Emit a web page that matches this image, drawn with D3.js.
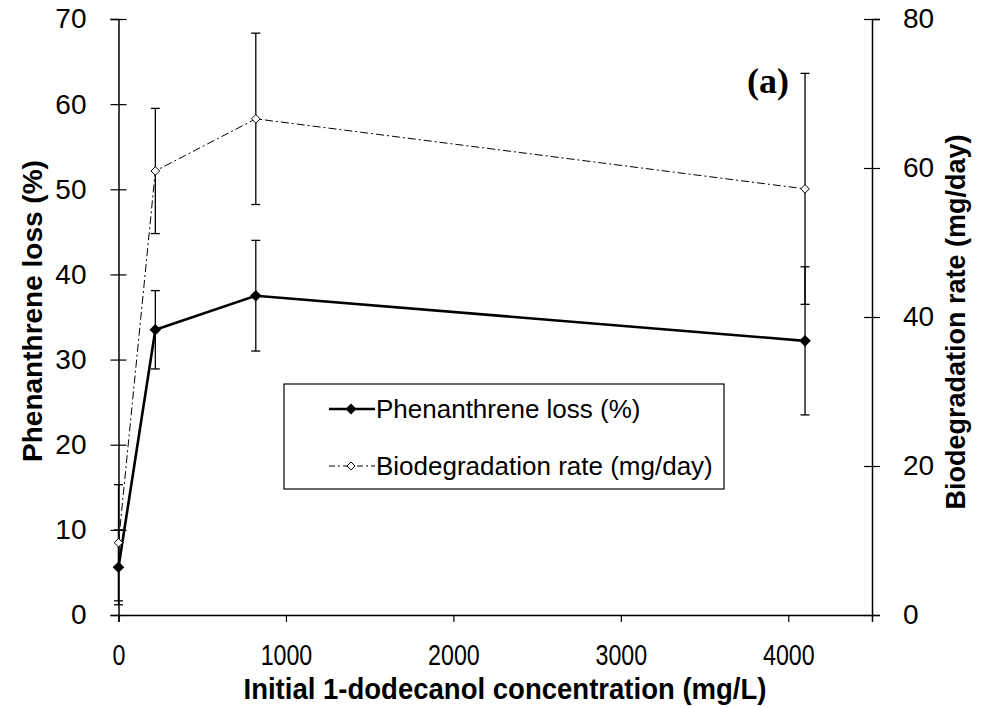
<!DOCTYPE html>
<html>
<head>
<meta charset="utf-8">
<script src="https://cdn.jsdelivr.net/npm/d3@7"></script>
<style>
  html, body { margin: 0; padding: 0; background: #fff; }
  svg text { font-family: "Liberation Sans", Arial, Helvetica, sans-serif; fill: #000; }
</style>
</head>
<body>
<svg id="chart" width="993" height="707"></svg>
<script>
// ---- data ----
const concentrations = [0, 220, 820, 4100];           // mg/L
const phenanthreneLoss = [5.6, 33.5, 37.5, 32.2];      // %
const phenanthreneErr = [4.4, 4.6, 6.5, 8.7];
const biodegRate = [9.7, 59.6, 66.6, 57.2];            // mg/day
const biodegErr = [7.8, 8.4, 11.5, 15.5];
const xTicks = [0, 1000, 2000, 3000, 4000];
const yLeftTicks = [0, 10, 20, 30, 40, 50, 60, 70];
const yRightTicks = [0, 20, 40, 60, 80];
const seriesNames = ["Phenanthrene loss (%)", "Biodegradation rate (mg/day)"];

// ---- layout ----
const svg = d3.select("#chart");
const L = 118.5, R = 872, T = 19, B = 615;

const x = d3.scaleLinear().domain([0, 4500]).range([L, R]);
const yL = d3.scaleLinear().domain([0, 70]).range([B, T]);
const yR = d3.scaleLinear().domain([0, 80]).range([B, T]);

const phen = concentrations.map((c, i) => ({x: c, y: phenanthreneLoss[i], e: phenanthreneErr[i]}));
const bio = concentrations.map((c, i) => ({x: c, y: biodegRate[i], e: biodegErr[i]}));

// ---- axes ----
const xAxis = svg.append("g").attr("transform", `translate(0,${B})`)
  .call(d3.axisBottom(x).tickValues(xTicks).tickSize(7).tickPadding(0).tickFormat(d3.format("d")));
xAxis.select(".domain").attr("stroke", "#000").attr("stroke-width", 1.5);
xAxis.selectAll(".tick line").attr("stroke", "#000").attr("stroke-width", 1.2);
xAxis.selectAll(".tick text").text(null);
xAxis.selectAll(".tick").append("text")
  .attr("transform", "translate(0,50) scale(0.8,1)")
  .attr("text-anchor", "middle")
  .style("font-size", "29px")
  .text(d => d);

const yAxisL = svg.append("g").attr("transform", `translate(${L},0)`)
  .call(d3.axisLeft(yL).tickValues(yLeftTicks).tickSize(8).tickPadding(24));
yAxisL.select(".domain").attr("stroke", "#000").attr("stroke-width", 1.5);
yAxisL.selectAll(".tick line").attr("stroke", "#000").attr("stroke-width", 1.2).attr("x2", -8).attr("x1", 8);
yAxisL.selectAll(".tick text").style("font-size", "28px");

const yAxisR = svg.append("g").attr("transform", `translate(${R},0)`)
  .call(d3.axisRight(yR).tickValues(yRightTicks).tickSize(8).tickPadding(23));
yAxisR.select(".domain").attr("stroke", "#000").attr("stroke-width", 1.5);
yAxisR.selectAll(".tick line").attr("stroke", "#000").attr("stroke-width", 1.2).attr("x1", -8).attr("x2", 8);
yAxisR.selectAll(".tick text").style("font-size", "28px");

// ---- axis titles ----
svg.append("text")
  .attr("x", 505).attr("y", 699)
  .attr("text-anchor", "middle")
  .attr("textLength", 523).attr("lengthAdjust", "spacingAndGlyphs")
  .style("font-size", "29px").style("font-weight", "bold")
  .text("Initial 1-dodecanol concentration (mg/L)");

svg.append("text")
  .attr("transform", "translate(42,311) rotate(-90)")
  .attr("text-anchor", "middle")
  .style("font-size", "28px").style("font-weight", "bold")
  .text("Phenanthrene loss (%)");

svg.append("text")
  .attr("transform", "translate(965,322) rotate(-90)")
  .attr("text-anchor", "middle")
  .style("font-size", "27px").style("font-weight", "bold")
  .text("Biodegradation rate (mg/day)");

// ---- error bars ----
function errorBars(data, ys) {
  const g = svg.append("g").attr("stroke", "#000").attr("stroke-width", 1.3);
  data.forEach(d => {
    const cx = x(d.x), y1 = ys(d.y - d.e), y2 = ys(d.y + d.e);
    g.append("line").attr("x1", cx).attr("x2", cx).attr("y1", y1).attr("y2", y2);
    g.append("line").attr("x1", cx - 4.5).attr("x2", cx + 4.5).attr("y1", y1).attr("y2", y1);
    g.append("line").attr("x1", cx - 4.5).attr("x2", cx + 4.5).attr("y1", y2).attr("y2", y2);
  });
}
errorBars(phen, yL);
errorBars(bio, yR);

// ---- lines ----
svg.append("path").datum(bio)
  .attr("fill", "none").attr("stroke", "#000").attr("stroke-width", 1)
  .attr("stroke-dasharray", "8,3,2,3")
  .attr("d", d3.line().x(d => x(d.x)).y(d => yR(d.y)));

svg.append("path").datum(phen)
  .attr("fill", "none").attr("stroke", "#000").attr("stroke-width", 2.6)
  .attr("d", d3.line().x(d => x(d.x)).y(d => yL(d.y)));

// ---- markers ----
const diamond = r => `M0,${-r}L${r},0L0,${r}L${-r},0Z`;
svg.append("g").selectAll("path").data(bio).join("path")
  .attr("transform", d => `translate(${x(d.x)},${yR(d.y)})`)
  .attr("d", diamond(4.3)).attr("fill", "#fff").attr("stroke", "#000").attr("stroke-width", 1);
svg.append("g").selectAll("path").data(phen).join("path")
  .attr("transform", d => `translate(${x(d.x)},${yL(d.y)})`)
  .attr("d", diamond(5.8)).attr("fill", "#000");

// ---- legend ----
const lg = svg.append("g");
lg.append("rect").attr("x", 284).attr("y", 384).attr("width", 440).attr("height", 105)
  .attr("fill", "#fff").attr("stroke", "#000").attr("stroke-width", 1.2);
const rowY = [409, 466];
// row 1
lg.append("line").attr("x1", 329).attr("x2", 375).attr("y1", rowY[0]).attr("y2", rowY[0])
  .attr("stroke", "#000").attr("stroke-width", 2.6);
lg.append("path").attr("transform", `translate(351,${rowY[0]})`).attr("d", diamond(5.5)).attr("fill", "#000");
lg.append("text").attr("x", 376).attr("y", rowY[0]).attr("dy", "0.36em")
  .style("font-size", "26px").text(seriesNames[0]);
// row 2
lg.append("line").attr("x1", 329).attr("x2", 375).attr("y1", rowY[1]).attr("y2", rowY[1])
  .attr("stroke", "#000").attr("stroke-width", 1).attr("stroke-dasharray", "6,3,2,3");
lg.append("path").attr("transform", `translate(351,${rowY[1]})`).attr("d", diamond(4))
  .attr("fill", "#fff").attr("stroke", "#000").attr("stroke-width", 1);
lg.append("text").attr("x", 376).attr("y", rowY[1]).attr("dy", "0.36em")
  .style("font-size", "26px").text(seriesNames[1]);

// ---- panel label ----
svg.append("text").attr("x", 768).attr("y", 93).attr("text-anchor", "middle")
  .style("font-family", "'Liberation Serif', 'Times New Roman', serif")
  .style("font-size", "36px").style("font-weight", "bold")
  .text("(a)");
</script>
</body>
</html>
